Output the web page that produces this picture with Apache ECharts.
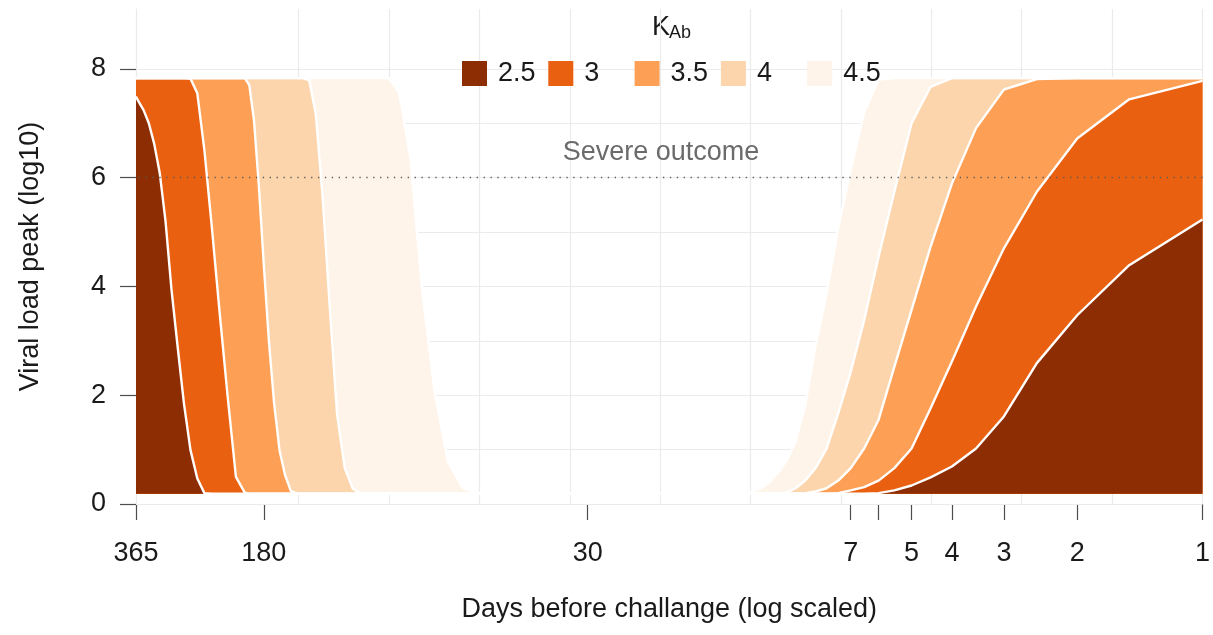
<!DOCTYPE html>
<html><head><meta charset="utf-8">
<script src="https://cdn.jsdelivr.net/npm/echarts@6/dist/echarts.min.js"></script>
<style>html,body{margin:0;padding:0;background:#fff}#c{width:1213px;height:635px}</style>
</head><body><div id="c"></div>
<script>
// ---- data ----
const days = [1,1.5,2,2.5,3,3.5,4,4.5,5,5.5,6,6.5,7,
  7.5,8,8.5,9,9.5,10,10.5,11,11.5,12,12.5,13,
  15,20,30,50,
  55,60,65,70,75,80,85,90,95,100,
  105,110,115,120,125,130,135,140,145,150,
  155,160,165,170,175,180,185,190,195,200,
  210,220,230,240,250,260,270,280,290,300,310,320,330,340,350,360,365];

const kAb = ['2.5','3','3.5','4','4.5'];

const peak25 = [5.23,4.39,3.47,2.59,1.61,1.02,0.69,0.49,0.34,0.25,0.20,0.19,0.19,
  0.19,0.19,0.19,0.19,0.19,0.19,0.19,0.19,0.19,0.19,0.19,0.19,
  0.19,0.19,0.19,0.19,
  0.19,0.19,0.19,0.19,0.19,0.19,0.19,0.19,0.19,0.19,
  0.19,0.19,0.19,0.19,0.19,0.19,0.19,0.19,0.19,0.19,
  0.19,0.19,0.19,0.19,0.19,0.19,0.19,0.19,0.19,0.19,
  0.19,0.19,0.19,0.19,0.20,0.47,0.99,1.85,2.90,3.95,5.20,6.08,6.62,7.00,7.24,7.40,7.49];

const peak3 = [7.78,7.44,6.72,5.74,4.70,3.63,2.62,1.76,1.02,0.66,0.43,0.31,0.25,
  0.20,0.19,0.19,0.19,0.19,0.19,0.19,0.19,0.19,0.19,0.19,0.19,
  0.19,0.19,0.19,0.19,
  0.19,0.19,0.19,0.19,0.19,0.19,0.19,0.19,0.19,0.19,
  0.19,0.19,0.19,0.19,0.19,0.19,0.19,0.19,0.19,0.19,
  0.19,0.19,0.19,0.19,0.19,0.19,0.19,0.19,0.19,0.21,
  0.50,2.00,3.55,5.10,6.50,7.55,7.82,7.83,7.83,7.83,7.83,7.83,7.83,7.83,7.83,7.83,7.83];

const peak35 = [7.83,7.83,7.83,7.81,7.62,6.91,5.89,4.73,3.57,2.52,1.55,1.02,0.66,
  0.43,0.29,0.23,0.20,0.19,0.19,0.19,0.19,0.19,0.19,0.19,0.19,
  0.19,0.19,0.19,0.19,
  0.19,0.19,0.19,0.19,0.19,0.19,0.19,0.19,0.19,0.19,
  0.19,0.19,0.19,0.19,0.19,0.19,0.19,0.19,0.19,0.19,
  0.24,0.53,0.99,1.85,3.00,4.40,5.85,7.05,7.70,7.83,
  7.83,7.83,7.83,7.83,7.83,7.83,7.83,7.83,7.83,7.83,7.83,7.83,7.83,7.83,7.83,7.83,7.83];

const peak4 = [7.83,7.83,7.83,7.83,7.83,7.83,7.83,7.67,7.00,5.74,4.55,3.38,2.43,
  1.67,1.02,0.66,0.43,0.29,0.21,0.19,0.19,0.19,0.19,0.19,0.19,
  0.19,0.19,0.19,0.19,
  0.19,0.19,0.19,0.19,0.19,0.19,0.19,0.19,0.19,0.19,
  0.19,0.28,0.66,1.65,3.64,5.65,7.17,7.79,7.83,7.83,
  7.83,7.83,7.83,7.83,7.83,7.83,7.83,7.83,7.83,7.83,
  7.83,7.83,7.83,7.83,7.83,7.83,7.83,7.83,7.83,7.83,7.83,7.83,7.83,7.83,7.83,7.83,7.83];

const peak45 = [7.83,7.83,7.83,7.83,7.83,7.83,7.83,7.83,7.83,7.83,7.80,7.20,6.14,
  5.08,3.87,2.92,1.82,1.15,0.78,0.56,0.39,0.29,0.23,0.20,0.19,
  0.19,0.19,0.19,0.19,
  0.19,0.30,0.78,2.07,3.97,6.35,7.55,7.83,7.83,7.83,
  7.83,7.83,7.83,7.83,7.83,7.83,7.83,7.83,7.83,7.83,
  7.83,7.83,7.83,7.83,7.83,7.83,7.83,7.83,7.83,7.83,
  7.83,7.83,7.83,7.83,7.83,7.83,7.83,7.83,7.83,7.83,7.83,7.83,7.83,7.83,7.83,7.83,7.83];

const peaks = [peak25, peak3, peak35, peak4, peak45];
const baseline = 0.19;
const severeLevel = 6;
const severeText = 'Severe outcome';
const severeTextAt = [20, 6.47];

const xTickValues = [1,2,3,4,5,6,7,30,180,365];
const xLabelValues = [1,2,3,4,5,7,30,180,365];
const yTickValues = [0,2,4,6,8];
const yGridValues = [0,1,2,3,4,5,6,7,8];
// gridlines on the natural-log scale (major e^0..e^5, minor halfway between)
const xGridValues = [0,1,2,3,4,5,6,7,8,9,10].map(k => Math.exp(k / 2));

// ---- style ----
const colors = ['#8C2D04','#EA6011','#FD9F55','#FCD5AC','#FEF4E9'];
const FONT = '"Liberation Sans", Arial, Helvetica, sans-serif';
const ink = '#1a1a1a';
const FS = 27;

const chart = echarts.init(document.getElementById('c'), null, {renderer: 'canvas'});

const areaSeries = [];
for (let i = kAb.length - 1; i >= 0; i--) {
  areaSeries.push({
    name: kAb[i],
    type: 'line',
    data: days.map((d, j) => [d, peaks[i][j]]),
    symbol: 'none',
    showSymbol: false,
    z: 2,
    silent: true,
    legendIcon: 'rect',
    itemStyle: {color: colors[i], borderWidth: 0},
    lineStyle: {color: '#ffffff', width: 2.4},
    areaStyle: {color: colors[i], opacity: 1, origin: baseline},
    emphasis: {disabled: true}
  });
}

const legends = kAb.map((k, i) => ({
  data: [k],
  left: 462 + i * 86.3, top: 60,
  padding: 0,
  icon: 'rect',
  itemWidth: 25, itemHeight: 25,
  selectedMode: false,
  itemStyle: {borderWidth: 0},
  lineStyle: {width: 0, opacity: 0},
  textStyle: {fontSize: FS, color: ink, fontFamily: FONT, padding: [0, 0, 0, 6]}
}));

const option = {
  animation: false,
  textStyle: {fontFamily: FONT},
  grid: {left: 136, right: 6, top: 9, bottom: 131, containLabel: false},
  legend: legends,
  graphic: [
    {type: 'text', left: 652, top: 14, silent: true,
     style: {text: 'K', fontSize: FS, fill: ink, fontFamily: FONT}},
    {type: 'text', left: 669, top: 24, silent: true,
     style: {text: 'Ab', fontSize: 18, fill: ink, fontFamily: FONT}}
  ],
  xAxis: {
    type: 'log',
    logBase: 10,
    min: 1, max: 365,
    inverse: true,
    name: 'Days before challange (log scaled)',
    nameLocation: 'middle',
    nameGap: 92,
    nameTextStyle: {fontSize: FS, color: ink, fontFamily: FONT},
    axisLine: {show: false},
    axisTick: {show: true, length: 16, customValues: xTickValues, lineStyle: {color: '#4d4d4d', width: 1.2}},
    axisLabel: {show: true, customValues: xLabelValues, margin: 36, fontSize: FS, color: ink, fontFamily: FONT,
      formatter: v => String(Math.round(v))},
    splitLine: {show: false},
    minorTick: {show: false},
    minorSplitLine: {show: false}
  },
  yAxis: {
    type: 'value',
    min: 0, max: 9.1,
    name: 'Viral load peak (log10)',
    nameLocation: 'middle',
    nameGap: 92,
    nameRotate: 90,
    nameTextStyle: {fontSize: FS, color: ink, fontFamily: FONT},
    axisLine: {show: true, lineStyle: {color: '#EBEBEB', width: 1.2}},
    axisTick: {show: true, length: 16, customValues: yTickValues, lineStyle: {color: '#4d4d4d', width: 1.2}},
    axisLabel: {show: true, customValues: yTickValues, margin: 30, fontSize: FS, color: ink, fontFamily: FONT},
    splitLine: {show: false}
  },
  series: [
    {
      type: 'line', data: [], z: 1, silent: true,
      markLine: {
        z: 1,
        silent: true, animation: false, symbol: ['none', 'none'],
        label: {show: false},
        lineStyle: {color: '#EBEBEB', width: 1.2, type: 'solid'},
        emphasis: {disabled: true},
        data: xGridValues.map(v => ({xAxis: v})).concat(yGridValues.map(v => ({yAxis: v})))
      }
    },
    ...areaSeries,
    {
      type: 'line', data: [], z: 10, silent: true,
      markLine: {
        z: 10,
        silent: true, animation: false, symbol: ['none', 'none'],
        label: {show: false},
        lineStyle: {color: '#5a5a5a', width: 1.3, type: [1.3, 5.6]},
        emphasis: {disabled: true},
        data: [{yAxis: severeLevel}]
      },
      markPoint: {
        z: 10,
        silent: true, animation: false,
        symbol: 'rect', symbolSize: 1,
        itemStyle: {color: 'rgba(0,0,0,0)'},
        label: {show: true, position: 'inside', formatter: severeText, fontSize: FS, color: '#6b6b6b', fontFamily: FONT},
        data: [{coord: severeTextAt}]
      }
    }
  ]
};
chart.setOption(option);
</script>
</body></html>
